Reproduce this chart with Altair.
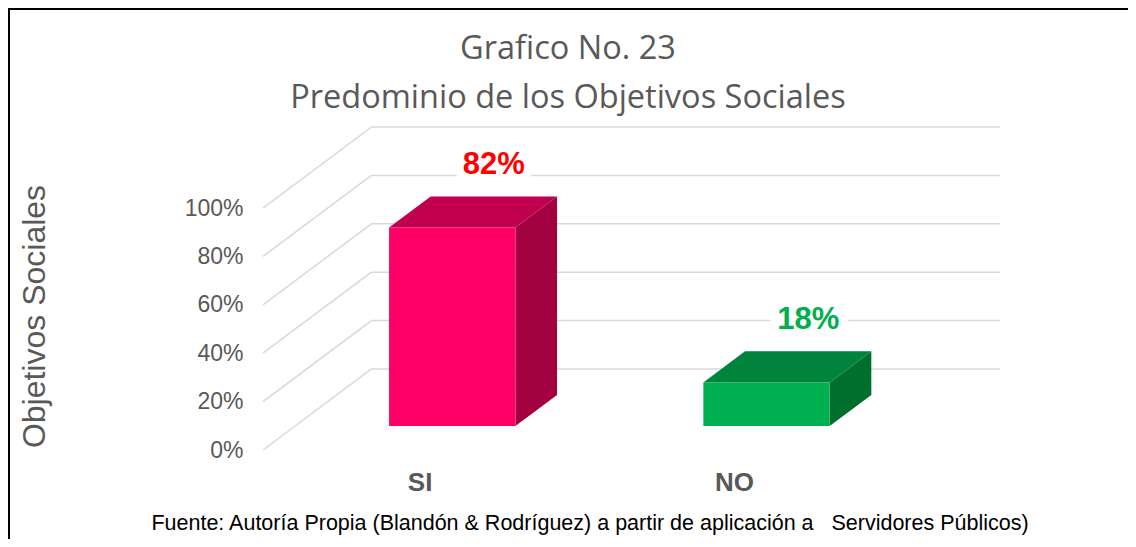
import altair as alt
import pandas as pd

# ---- data ----
categories = ["SI", "NO"]
values = [82, 18]
front_colors = ["#FF0066", "#00B050"]
top_colors = ["#C0004F", "#00843D"]
side_colors = ["#A3003F", "#006F2E"]
label_colors = ["#FF0000", "#00B050"]
y_ticks = [0, 20, 40, 60, 80, 100]
title_lines = ["Grafico No. 23", "Predominio de los Objetivos Sociales"]
y_title = "Objetivos Sociales"
footnote = "Fuente: Autoría Propia (Blandón & Rodríguez) a partir de aplicación a\u00a0\u00a0 Servidores Públicos)"

# ---- 3D geometry (in scale units) ----
DX = 0.345   # depth of the chart box along x (category units)
DY = 33.5    # depth of the chart box along y (percent units)
F0, F1 = 0.296, 0.68  # front / back depth fraction of the bars
BAR_W = 0.402

W, H = 737, 323
xs = alt.Scale(domain=[-0.5, 1.5 + DX], nice=False, zero=False)
ys = alt.Scale(domain=[0, 100 + DY], nice=False, zero=False)

front_rows, top_rows, side_rows, lab_rows, cat_rows = [], [], [], [], []
for i, (c, v) in enumerate(zip(categories, values)):
    xc = i + F0 * DX
    xl, xr = xc - BAR_W / 2, xc + BAR_W / 2
    yb, yt = F0 * DY, v + F0 * DY
    sx, sy = (F1 - F0) * DX, (F1 - F0) * DY
    front_rows.append(dict(x=xl, x2=xr, y=yb, y2=yt, color=front_colors[i]))
    for k, (px, lo, hi) in enumerate([(xl, yt, yt), (xl + sx, yt, yt + sy),
                                      (xr, yt, yt + sy), (xr + sx, yt + sy, yt + sy)]):
        top_rows.append(dict(face=c, x=px, lo=lo, hi=hi, color=top_colors[i]))
    for px, lo, hi in [(xr, yb, yt), (xr + sx, yb + sy, yt + sy)]:
        side_rows.append(dict(face=c, x=px, lo=lo, hi=hi, color=side_colors[i]))
    lab_rows.append(dict(x=i + F1 * DX, y=v + F1 * DY + 13, text=f"{v}%", color=label_colors[i]))
    cat_rows.append(dict(x=i, y=-13.5, text=c))

grid_back = pd.DataFrame([dict(x=-0.5 + DX, x2=1.5 + DX, y=t + DY) for t in y_ticks])
grid_diag = pd.DataFrame([dict(x=-0.5, x2=-0.5 + DX, y=t, y2=t + DY) for t in y_ticks])

GRID = "#D9D9D9"

yaxis = alt.Axis(
    values=y_ticks, labelExpr="datum.value + '%'", grid=False, domain=False, ticks=False,
    labelPadding=20, labelFontSize=23, labelFont="Liberation Sans", labelColor="#595959",
    title=y_title, titleFont="Liberation Sans", titleFontSize=32, titleFontWeight="normal",
    titleColor="#595959", titleAngle=-90, titleX=-229, titleY=189, titleBaseline="middle",
    titleAlign="center")

diag = alt.Chart(grid_diag).mark_rule(color=GRID, strokeWidth=1.5).encode(
    x=alt.X("x:Q", scale=xs, axis=None), x2="x2:Q",
    y=alt.Y("y:Q", scale=ys, axis=yaxis, stack=None), y2="y2:Q")
back = alt.Chart(grid_back).mark_rule(color=GRID, strokeWidth=1.5).encode(
    x=alt.X("x:Q", scale=xs, axis=None), x2="x2:Q",
    y=alt.Y("y:Q", scale=ys, axis=yaxis, stack=None))

front = alt.Chart(pd.DataFrame(front_rows)).mark_rect().encode(
    x=alt.X("x:Q", scale=xs, axis=None), x2="x2:Q",
    y=alt.Y("y:Q", scale=ys, axis=yaxis, stack=None), y2="y2:Q",
    color=alt.Color("color:N", scale=None))
top = alt.Chart(pd.DataFrame(top_rows)).mark_area().encode(
    x=alt.X("x:Q", scale=xs, axis=None),
    y=alt.Y("lo:Q", scale=ys, axis=yaxis, stack=None), y2="hi:Q", detail="face:N",
    color=alt.Color("color:N", scale=None))
side = alt.Chart(pd.DataFrame(side_rows)).mark_area().encode(
    x=alt.X("x:Q", scale=xs, axis=None),
    y=alt.Y("lo:Q", scale=ys, axis=yaxis, stack=None), y2="hi:Q", detail="face:N",
    color=alt.Color("color:N", scale=None))

labdf = pd.DataFrame(lab_rows)
lab_bg = alt.Chart(labdf).mark_text(font="Liberation Sans", fontSize=31, fontWeight="bold",
                                    stroke="white", strokeWidth=18, fill="white").encode(
    x=alt.X("x:Q", scale=xs, axis=None), y=alt.Y("y:Q", scale=ys, axis=yaxis, stack=None),
    text="text:N")
lab = alt.Chart(labdf).mark_text(font="Liberation Sans", fontSize=31, fontWeight="bold").encode(
    x=alt.X("x:Q", scale=xs, axis=None), y=alt.Y("y:Q", scale=ys, axis=yaxis, stack=None),
    text="text:N", color=alt.Color("color:N", scale=None))

cats = alt.Chart(pd.DataFrame(cat_rows)).mark_text(
    font="Liberation Sans", fontSize=26, fontWeight="bold", color="#595959").encode(
    x=alt.X("x:Q", scale=xs, axis=None), y=alt.Y("y:Q", scale=ys, axis=yaxis, stack=None),
    text="text:N")

title = alt.Chart(pd.DataFrame({"t": ["\n".join(title_lines)]})).mark_text(
    font="Open Sans", fontSize=32.5, color="#595959", lineBreak="\n", lineHeight=49,
    baseline="alphabetic", align="center").encode(
    x=alt.value(305), y=alt.value(-68), text="t:N")

foot = alt.Chart(pd.DataFrame({"t": [footnote]})).mark_text(
    font="Liberation Sans", fontSize=21.5, color="#000000").encode(
    x=alt.value(327), y=alt.value(397), text="t:N")

frame_left = alt.Chart(pd.DataFrame({"t": [0]})).mark_rule(color="#000000", strokeWidth=2).encode(
    x=alt.value(-254), y=alt.value(-119), y2=alt.value(430))
frame_top = alt.Chart(pd.DataFrame({"t": [0]})).mark_rule(color="#000000", strokeWidth=2).encode(
    x=alt.value(-255), x2=alt.value(900), y=alt.value(-118))

chart = alt.layer(frame_left, frame_top, diag, back, side, top, front, lab_bg, lab, cats,
                  title, foot).properties(
    width=W, height=H,
    autosize=alt.AutoSizeParams(type="none"),
    padding={"left": 255, "top": 119, "right": 128, "bottom": 89},
).configure_view(stroke=None)

chart.save("out.html", embed_options={"renderer": "svg", "actions": False})
